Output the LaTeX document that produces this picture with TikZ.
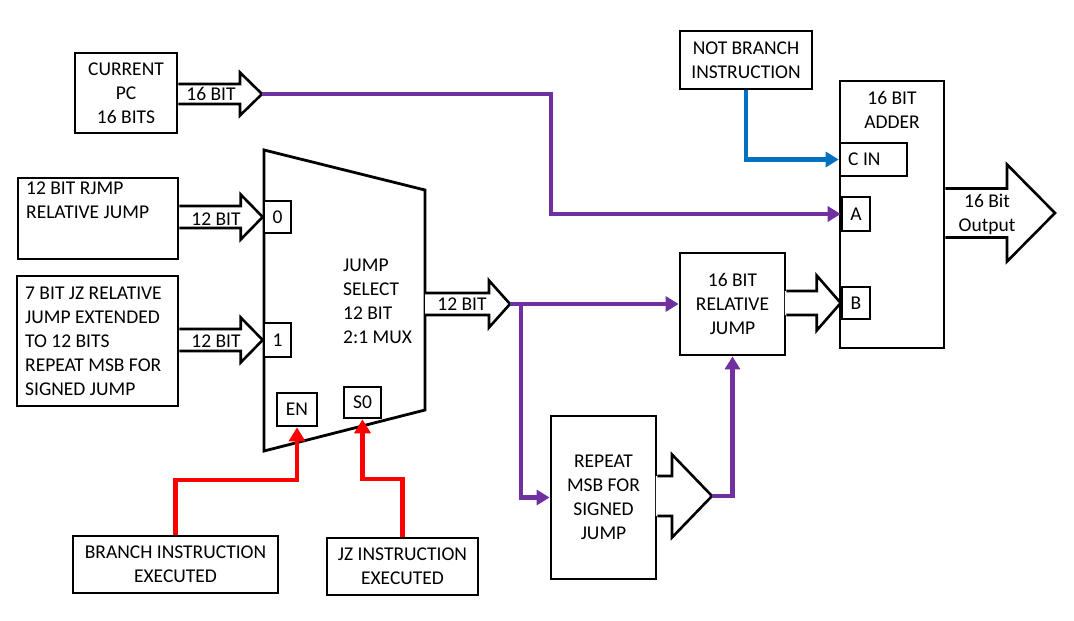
\documentclass[tikz,border=0pt]{standalone}
\usepackage{fontspec}
\setmainfont{Carlito}
\usetikzlibrary{arrows.meta,calc}
\definecolor{busviolet}{HTML}{7030A0}
\definecolor{carryblue}{HTML}{0070C0}
\definecolor{ctrlred}{HTML}{FF0000}

% wide hollow arrow: [fill overlap] {start} {tip} {shaft half} {head half} {head length}
\newcommand{\blockarrow}[6][0]{%
  \fill[white] let \p1=(#2), \p2=(#3) in
    ({\x1-#1pt},{\y2+#4pt}) -- ({\x2-#6pt},{\y2+#4pt}) -- ({\x2-#6pt},{\y2+#5pt}) -- (\x2,\y2)
    -- ({\x2-#6pt},{\y2-#5pt}) -- ({\x2-#6pt},{\y2-#4pt}) -- ({\x1-#1pt},{\y2-#4pt}) -- cycle;
  \draw[arrowline] let \p1=(#2), \p2=(#3) in
    (\x1,{\y2+#4pt}) -- ({\x2-#6pt},{\y2+#4pt}) -- ({\x2-#6pt},{\y2+#5pt}) -- (\x2,\y2)
    -- ({\x2-#6pt},{\y2-#5pt}) -- ({\x2-#6pt},{\y2-#4pt}) -- (\x1,{\y2-#4pt});
}

\begin{document}
\begin{tikzpicture}[x=1pt,y=-1pt,
  every node/.style={font=\fontsize{19.5}{24}\selectfont},
  box/.style={draw, line width=2.8pt, fill=white, inner sep=0pt, align=center},
  port/.style={draw, line width=2.6pt, fill=white, inner sep=0pt},
  arrowline/.style={line width=2.6pt, line join=miter},
  lbl/.style={inner sep=0pt, align=center},
  bus/.style={draw=busviolet, line width=4.2pt, -{Triangle[length=13pt,width=15pt]}},
  carry/.style={draw=carryblue, line width=4.2pt, -{Triangle[length=13pt,width=15pt]}},
  ctrl/.style={draw=ctrlred, line width=4.2pt, -{Triangle[length=14pt,width=16pt]}}
]
\useasboundingbox (0,0) rectangle (1074,621);

% source blocks
\node[box, minimum width=102pt, minimum height=80pt] (pc) at (126,93) {CURRENT\\PC\\16 BITS};
\node[box, minimum width=160pt, minimum height=81pt] (rjmp) at (98,218.5) {};
\node[lbl, anchor=north west, align=flush left] (rjmptxt) at (26,182) {12 BIT RJMP\\RELATIVE JUMP};
\node[box, minimum width=161pt, minimum height=130pt] (jzrel) at (97.5,341) {};
\node[lbl, anchor=west, align=flush left] (jzreltxt) at (25,341)
  {7 BIT JZ RELATIVE\\JUMP EXTENDED\\TO 12 BITS\\REPEAT MSB FOR\\SIGNED JUMP};
\node[box, minimum width=132pt, minimum height=58pt] (notbr) at (746,60) {NOT BRANCH\\INSTRUCTION};
\node[box, minimum width=205pt, minimum height=57pt] (branch) at (175.5,564.5) {BRANCH INSTRUCTION\\EXECUTED};
\node[box, minimum width=151pt, minimum height=57pt] (jz) at (402.5,566.5) {JZ INSTRUCTION\\EXECUTED};

% jump select multiplexer
\draw[line width=2.8pt, line join=miter, fill=white] (264,150) -- (425,190) -- (425,410) -- (264,451) -- cycle;
\node[lbl, anchor=west, align=flush left] (muxtxt) at (343,301) {JUMP\\SELECT\\12 BIT\\2:1 MUX};
\node[port, minimum width=27pt, minimum height=32pt] (in0) at (277.5,217) {0};
\node[port, minimum width=27pt, minimum height=34pt] (in1) at (277.5,340) {1};
\node[port, minimum width=40pt, minimum height=33pt] (en) at (297,409.5) {EN};
\node[port, minimum width=37pt, minimum height=31pt] (sel) at (362.5,402.5) {S0};

% adder
\node[box, minimum width=104pt, minimum height=267pt] (adder) at (892,214.5) {};
\node[lbl] (addertxt) at (892,110) {16 BIT\\ADDER};
\node[port, minimum width=67pt, minimum height=33pt] (cin) at (873.5,159.5) {};
\node[lbl, anchor=west] (cintxt) at (848,159.5) {C IN};
\node[port, minimum width=28pt, minimum height=34pt] (pa) at (856,214) {A};
\node[port, minimum width=28pt, minimum height=32pt] (pb) at (856,303) {B};

% offset path blocks
\node[box, minimum width=105pt, minimum height=102pt] (rel) at (732.5,304) {16 BIT\\RELATIVE\\JUMP};
\node[box, minimum width=105pt, minimum height=163pt] (rep) at (603.5,497.5) {REPEAT\\MSB FOR\\SIGNED\\JUMP};

% wide bus arrows
\coordinate (pctip) at (262,94);
\coordinate (muxout) at (425,304);
\coordinate (muxtip) at (510,304);
\coordinate (reptip) at (712,496);
\coordinate (outtip) at (1055,213);
\blockarrow{pc.east}{pctip}{10}{21.5}{22}
\blockarrow{rjmp.east}{in0.west}{11}{22.5}{22}
\blockarrow{jzrel.east}{in1.west}{11}{22.5}{22}
\blockarrow{muxout}{muxtip}{11}{23.5}{21}
\blockarrow[1.6]{rel.east}{pb.west}{12}{27.5}{24}
\blockarrow[1.6]{rep.east}{reptip}{20}{41.5}{40}
\blockarrow{adder.east}{outtip}{24.5}{48.5}{48}

\node[lbl] (pcbits) at (211,94) {16 BIT};
\node[lbl] (rjmpbits) at (216,219) {12 BIT};
\node[lbl] (jzbits) at (216,341) {12 BIT};
\node[lbl] (muxbits) at (462,304) {12 BIT};
\node[lbl] (outtxt) at (987,214) {16 Bit\\Output};

% connectors
\coordinate (pcbend) at (551,94);
\coordinate (split) at (521,304);
\draw[bus] (pctip) -- (pcbend) |- (pa.west);
\draw[bus] (muxtip) -- (rel.west);
\draw[bus] (split) |- (rep.west);
\draw[bus] (reptip) -| (rel.south);
\draw[carry] (notbr.south) |- (cin.west);
\draw[ctrl] (branch.north) -- ++(0,-55) -| (en.south);
\draw[ctrl] (jz.north) -- ++(0,-58) -| (sel.south);
\end{tikzpicture}
\end{document}
